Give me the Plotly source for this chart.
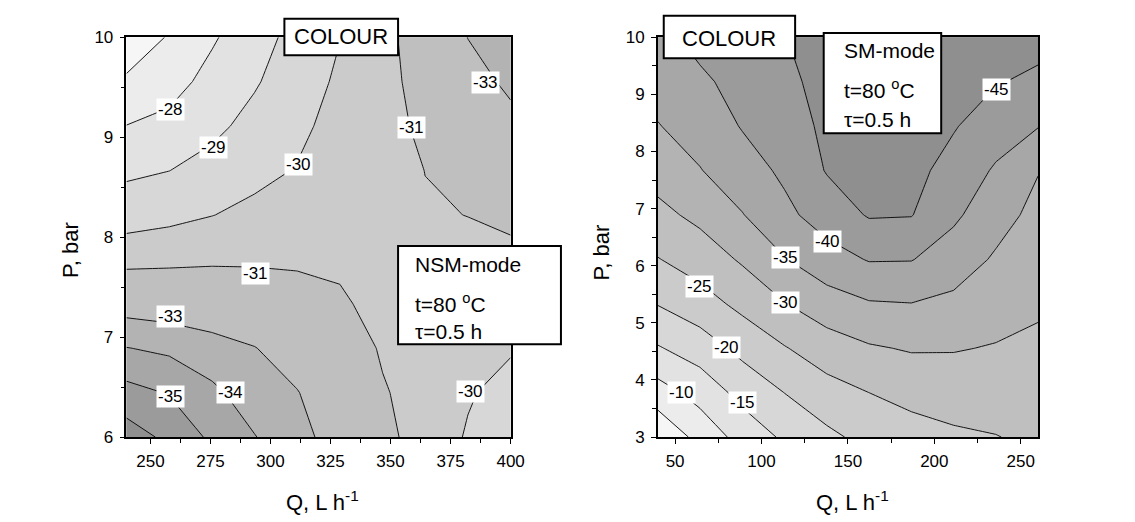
import plotly.graph_objects as go

# ---------------- Left panel: NSM-mode (colour change vs Q and P) ----------------
q_nsm = [240, 257.8, 275.6, 293.3, 311.1, 328.9, 346.7, 364.4, 382.2, 400]
p_nsm = [6, 6.444, 6.889, 7.333, 7.778, 8.222, 8.667, 9.111, 9.556, 10]
colour_nsm = [
    [-36.5, -35.76, -34.81, -34.04, -33.37, -32.48, -31.29, -30.54, -29.92, -29.3],
    [-35.34, -34.94, -34.2, -33.53, -33.06, -32.02, -31.08, -30.62, -30.08, -29.7],
    [-34.03, -33.8, -33.44, -33.05, -32.32, -31.57, -30.9, -30.7, -30.31, -30.08],
    [-32.53, -32.4, -32.2, -31.86, -31.48, -31.11, -30.75, -30.78, -30.54, -30.42],
    [-30.56, -30.66, -30.78, -30.82, -30.83, -30.86, -30.65, -30.85, -30.78, -30.76],
    [-29.6, -29.76, -29.98, -30.23, -30.44, -30.68, -30.6, -30.93, -31.01, -31.2],
    [-28.8, -28.99, -29.33, -29.74, -30.05, -30.51, -30.6, -31.01, -31.52, -31.93],
    [-28.02, -28.26, -28.77, -29.3, -29.79, -30.33, -30.62, -31.22, -32.02, -32.66],
    [-27.11, -27.63, -28.31, -28.9, -29.55, -30.15, -30.64, -31.43, -32.52, -33.24],
    [-26.5, -27.06, -27.88, -28.61, -29.31, -29.98, -30.65, -31.63, -33.02, -33.7],
]
levels_nsm = [-27, -28, -29, -30, -31, -33, -34, -35, -36]
labels_nsm_text = ["-28", "-29", "-30", "-31", "-33", "-31", "-33", "-35", "-34", "-30"]
labels_nsm_q = [258.4, 276.2, 311.5, 358.8, 389.7, 293.6, 258.4, 258.4, 283.3, 383.5]
labels_nsm_p = [9.28, 8.9, 8.73, 9.1, 9.55, 7.64, 7.21, 6.41, 6.45, 6.46]

# ---------------- Right panel: SM-mode ----------------
q_sm = [40, 64.4, 88.9, 113.3, 137.8, 162.2, 186.7, 211.1, 235.6, 260]
p_sm = [3, 3.778, 4.556, 5.333, 6.111, 6.889, 7.667, 8.444, 9.222, 10]
colour_sm = [
    [-0.5, -6.7, -11.8, -15.8, -18.9, -21.5, -23.0, -24.2, -24.85, -26],
    [-7.9, -11.8, -16.6, -20.05, -23.1, -25.0, -26.5, -27.2, -27.3, -27.6],
    [-14.6, -17.4, -21.4, -24.7, -27.6, -29.5, -30.4, -30.3, -29.7, -29.1],
    [-20.2, -22.9, -26.3, -29.8, -32.8, -34.6, -34.9, -33.9, -32.1, -30.65],
    [-24.8, -27.3, -30.6, -34.75, -38.0, -40.3, -40.2, -37.55, -34.4, -32.1],
    [-28.7, -31.2, -34.8, -38.8, -42.3, -45.4, -45.2, -40.9, -36.9, -33.6],
    [-31.9, -34.8, -37.8, -40.9, -45.3, -46.5, -46.4, -43.3, -39.4, -35.2],
    [-34.8, -37.0, -40.3, -42.2, -46.2, -47.7, -47.6, -45.35, -42.5, -40.2],
    [-36.7, -39.1, -41.7, -43.5, -47.1, -48.8, -48.8, -46.4, -45.3, -44.1],
    [-38.5, -41.5, -43.0, -44.8, -48.0, -50.0, -50.0, -47.5, -46.5, -46.5],
]
levels_sm = [-5, -10, -15, -20, -25, -30, -35, -40, -45]
labels_sm_text = ["-10", "-15", "-20", "-25", "-30", "-35", "-40", "-45"]
labels_sm_q = [53.8, 89, 80, 64.3, 113.7, 113.7, 138, 236]
labels_sm_p = [3.78, 3.6, 4.56, 5.63, 5.35, 6.14, 6.42, 9.09]

# grey bands: index 0 = above highest level, then one per level (region below it)
greys_nsm = ["#f6f6f6", "#ececec", "#e2e2e2", "#d7d7d7", "#cbcbcb",
             "#bfbfbf", "#b3b3b3", "#a7a7a7", "#9b9b9b", "#8f8f8f"]
greys_sm = ["#f6f6f6", "#ececec", "#e2e2e2", "#d7d7d7", "#cbcbcb",
            "#bfbfbf", "#b3b3b3", "#a7a7a7", "#9b9b9b", "#8f8f8f"]

FONT = "Arial, Liberation Sans, sans-serif"

fig = go.Figure()


def add_panel(xs, ys, zs, levels, greys, xa, ya):
    # filled bands, stacked from the highest level down
    for lev, col in zip(levels, greys[1:]):
        fig.add_trace(go.Contour(
            x=xs, y=ys, z=zs,
            contours=dict(type="constraint", operation=">", value=lev),
            fillcolor=col,
            line=dict(color=col, width=0, smoothing=0),
            showscale=False, hoverinfo="skip",
            xaxis=xa, yaxis=ya,
        ))
    # contour lines on top
    for lev in levels:
        fig.add_trace(go.Contour(
            x=xs, y=ys, z=zs,
            contours=dict(coloring="lines", start=lev, end=lev, size=1, showlabels=False),
            colorscale=[[0, "black"], [1, "black"]],
            line=dict(width=0.9, smoothing=0),
            showscale=False, hoverinfo="skip",
            xaxis=xa, yaxis=ya,
        ))
    fig.add_shape(type="rect", xref=f"{xa} domain", yref=f"{ya} domain",
                  x0=0, x1=1, y0=0, y1=1, fillcolor=greys[0],
                  line=dict(width=0), layer="below")


add_panel(q_nsm, p_nsm, colour_nsm, levels_nsm, greys_nsm, "x", "y")
add_panel(q_sm, p_sm, colour_sm, levels_sm, greys_sm, "x2", "y2")

# contour labels
for txt, xv, yv in zip(labels_nsm_text, labels_nsm_q, labels_nsm_p):
    fig.add_annotation(x=xv, y=yv, xref="x", yref="y", text=txt, showarrow=False,
                       bgcolor="white", borderpad=1,
                       font=dict(family=FONT, size=17, color="black"))
for txt, xv, yv in zip(labels_sm_text, labels_sm_q, labels_sm_p):
    fig.add_annotation(x=xv, y=yv, xref="x2", yref="y2", text=txt, showarrow=False,
                       bgcolor="white", borderpad=1,
                       font=dict(family=FONT, size=17, color="black"))

axis_common = dict(showgrid=False, zeroline=False, showline=True, linecolor="black",
                   linewidth=1.5, mirror=True, ticks="outside", ticklen=5,
                   tickwidth=1.2, tickcolor="black", ticklabelstandoff=3,
                   tickfont=dict(family=FONT, size=17, color="black"))

fig.update_layout(
    width=1135, height=522,
    margin=dict(l=0, r=0, t=0, b=0),
    paper_bgcolor="white", plot_bgcolor="white",
    showlegend=False,
    xaxis=dict(domain=[0.1128, 0.4555], range=[240, 400], tickvals=[250, 275, 300, 325, 350, 375, 400],
               minor=dict(tickvals=[262.5, 287.5, 312.5, 337.5, 362.5, 387.5], ticks="outside",
                          ticklen=4, tickcolor="black"),
               anchor="y", **axis_common),
    yaxis=dict(domain=[0.1489, 0.9439], range=[6, 10], tickvals=[6, 7, 8, 9, 10],
               minor=dict(tickvals=[6.5, 7.5, 8.5, 9.5], ticks="outside", ticklen=4,
                          tickcolor="black"),
               anchor="x", **axis_common),
    xaxis2=dict(domain=[0.5868, 0.926], range=[40, 260], tickvals=[50, 100, 150, 200, 250],
                minor=dict(tickvals=[75, 125, 175, 225], ticks="outside", ticklen=4,
                           tickcolor="black"),
                anchor="y2", **axis_common),
    yaxis2=dict(domain=[0.1489, 0.9439], range=[3, 10], tickvals=[3, 4, 5, 6, 7, 8, 9, 10],
                minor=dict(tickvals=[3.5, 4.5, 5.5, 6.5, 7.5, 8.5, 9.5], ticks="outside",
                           ticklen=4, tickcolor="black"),
                anchor="x2", **axis_common),
)

# boxes (paper coordinates)
boxes = [(0.2537, 0.3551, 0.908, 0.9808), (0.3551, 0.5004, 0.3333, 0.5287),
         (0.5921, 0.7093, 0.9023, 0.9866), (0.7348, 0.8396, 0.7529, 0.9521)]
for x0, x1, y0, y1 in boxes:
    fig.add_shape(type="rect", xref="paper", yref="paper", x0=x0, x1=x1, y0=y0, y1=y1,
                  fillcolor="white", line=dict(color="black", width=2), layer="above")

texts = [
    ("COLOUR", 0.3044, 0.9444, "center", 22),
    ("COLOUR", 0.6502, 0.9406, "center", 22),
    ("NSM-mode", 0.3683, 0.4923, "left", 21),
    ("t=80 <sup>o</sup>C", 0.3683, 0.4157, "left", 21),
    ("τ=0.5 h", 0.3683, 0.3582, "left", 21),
    ("SM-mode", 0.7515, 0.9176, "left", 21),
    ("t=80 <sup>o</sup>C", 0.7515, 0.841, "left", 21),
    ("τ=0.5 h", 0.7515, 0.7797, "left", 21),
]
for t, xp, yp, anc, sz in texts:
    fig.add_annotation(x=xp, y=yp, xref="paper", yref="paper", text=t, showarrow=False,
                       xanchor=anc, yanchor="middle",
                       font=dict(family=FONT, size=sz, color="black"))

titles = [
    ("P, bar", 0.0634, 0.521, -90),
    ("P, bar", 0.5366, 0.515, -90),
    ("Q, L h<sup>-1</sup>", 0.288, 0.022, 0),
    ("Q, L h<sup>-1</sup>", 0.7604, 0.022, 0),
]
for t, xp, yp, ang in titles:
    fig.add_annotation(x=xp, y=yp, xref="paper", yref="paper", text=t, showarrow=False,
                       textangle=ang, xanchor="center", yanchor="middle",
                       font=dict(family=FONT, size=22, color="black"))

fig.write_html("out.html")
